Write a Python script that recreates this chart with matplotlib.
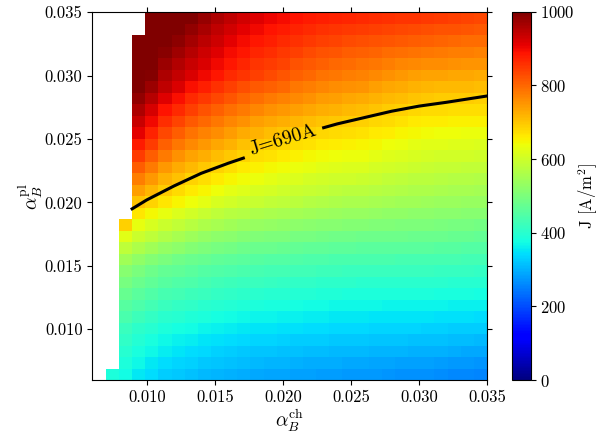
import numpy as np
import matplotlib
matplotlib.use("Agg")
import matplotlib.pyplot as plt

plt.rcParams.update({
    "font.family": "serif",
    "font.serif": ["cmr10"],
    "mathtext.fontset": "cm",
    "axes.unicode_minus": False,
    "axes.formatter.use_mathtext": True,
})

# current density J [A/m^2], one list per alpha_B^ch column, from the lowest alpha_B^pl upwards
# (cells above the end of a list have no solution)
J_cols = [
    [385],
    [372, 384, 396, 408, 421, 438, 456, 475, 494, 515, 545, 582, 622, 690],
    [355, 368, 381, 393, 406, 424, 442, 460, 478, 497, 525, 560, 595, 630, 665, 703, 739, 775, 811, 846, 882, 912, 936, 960, 984, 1008, 1030, 1050, 1070, 1090],
    [341, 355, 368, 381, 395, 412, 430, 448, 466, 484, 511, 545, 579, 613, 647, 684, 716, 748, 780, 812, 844, 873, 899, 924, 950, 975, 995, 1013, 1031, 1049, 1062, 1075],
    [328, 342, 356, 370, 384, 401, 419, 437, 454, 472, 497, 530, 563, 596, 629, 665, 693, 721, 749, 778, 806, 834, 862, 889, 916, 943, 960, 976, 992, 1008, 1024, 1040],
    [321, 335, 349, 363, 378, 395, 413, 430, 448, 465, 488, 520, 552, 584, 616, 651, 677, 704, 730, 757, 784, 811, 838, 864, 891, 918, 940, 956, 972, 988, 1004, 1020],
    [315, 329, 343, 357, 372, 389, 407, 424, 442, 459, 480, 510, 541, 572, 604, 637, 662, 687, 712, 737, 762, 788, 814, 840, 867, 893, 920, 936, 952, 968, 984, 1000],
    [308, 323, 337, 351, 366, 383, 401, 418, 435, 453, 473, 502, 531, 561, 592, 625, 649, 674, 698, 723, 747, 773, 798, 824, 850, 876, 902, 918, 933, 949, 964, 980],
    [302, 317, 331, 346, 361, 378, 395, 412, 429, 447, 467, 494, 522, 551, 580, 613, 637, 661, 685, 709, 733, 758, 783, 808, 833, 859, 885, 900, 915, 930, 945, 960],
    [298, 313, 327, 342, 357, 374, 391, 408, 425, 442, 462, 489, 516, 545, 573, 604, 627, 650, 673, 696, 719, 743, 767, 792, 817, 842, 867, 883, 898, 913, 928, 942],
    [294, 309, 324, 338, 354, 370, 387, 404, 421, 438, 458, 484, 511, 539, 567, 597, 619, 641, 663, 685, 707, 730, 754, 778, 803, 828, 852, 868, 883, 898, 913, 928],
    [291, 306, 320, 335, 351, 367, 384, 401, 418, 435, 455, 480, 507, 534, 562, 591, 612, 633, 654, 675, 697, 719, 742, 767, 791, 816, 840, 855, 870, 885, 900, 915],
    [288, 303, 318, 333, 349, 365, 381, 398, 415, 432, 452, 477, 503, 530, 558, 585, 606, 627, 647, 668, 688, 710, 733, 757, 781, 806, 829, 845, 860, 875, 890, 904],
    [286, 301, 316, 331, 347, 363, 379, 396, 413, 430, 450, 474, 500, 527, 554, 581, 601, 621, 641, 661, 681, 702, 725, 749, 773, 797, 820, 836, 851, 866, 881, 895],
    [284, 298, 314, 328, 344, 360, 376, 393, 410, 428, 447, 470, 496, 522, 548, 575, 595, 614, 634, 654, 674, 694, 716, 739, 762, 785, 808, 824, 840, 856, 872, 888],
    [282, 296, 312, 326, 342, 358, 374, 391, 408, 426, 445, 468, 493, 518, 544, 570, 590, 609, 629, 648, 668, 688, 709, 731, 754, 776, 798, 815, 832, 848, 865, 882],
    [280, 295, 310, 325, 340, 356, 372, 389, 406, 424, 443, 465, 490, 515, 540, 566, 586, 605, 624, 644, 663, 683, 703, 725, 746, 768, 789, 807, 824, 842, 859, 876],
    [278, 293, 308, 323, 338, 354, 370, 388, 404, 422, 441, 463, 488, 512, 537, 562, 582, 601, 620, 639, 659, 678, 698, 719, 740, 761, 782, 800, 818, 836, 854, 872],
    [277, 292, 307, 322, 337, 353, 369, 386, 403, 421, 439, 461, 486, 510, 534, 558, 578, 598, 617, 636, 655, 674, 694, 714, 734, 755, 775, 794, 812, 831, 850, 868],
    [276, 291, 306, 321, 336, 352, 368, 385, 402, 420, 438, 460, 484, 508, 532, 556, 576, 595, 614, 633, 652, 671, 690, 710, 730, 750, 770, 789, 808, 827, 846, 865],
    [274, 289, 304, 320, 335, 351, 368, 384, 402, 420, 438, 460, 483, 506, 529, 552, 572, 590, 608, 626, 645, 664, 682, 702, 722, 742, 762, 782, 802, 822, 842, 861],
    [271, 287, 303, 318, 334, 351, 367, 384, 401, 419, 438, 459, 482, 504, 527, 549, 568, 585, 603, 620, 639, 657, 676, 695, 714, 734, 754, 775, 796, 817, 837, 858],
    [269, 285, 301, 317, 333, 350, 367, 384, 401, 419, 437, 459, 481, 503, 525, 546, 564, 581, 598, 615, 633, 651, 670, 688, 708, 727, 748, 769, 791, 813, 834, 855],
    [268, 283, 300, 316, 333, 349, 366, 383, 400, 418, 437, 458, 480, 501, 523, 543, 561, 578, 594, 611, 628, 646, 664, 683, 702, 721, 742, 764, 787, 809, 831, 852],
    [266, 282, 299, 315, 332, 349, 366, 383, 400, 418, 437, 458, 479, 500, 521, 541, 559, 575, 591, 607, 624, 642, 660, 678, 697, 716, 737, 760, 783, 806, 828, 850],
    [263, 280, 297, 313, 330, 347, 364, 382, 399, 417, 436, 456, 477, 498, 519, 539, 556, 573, 589, 605, 622, 640, 658, 676, 695, 714, 735, 758, 780, 802, 824, 846],
    [261, 277, 294, 311, 328, 345, 363, 380, 398, 416, 434, 455, 475, 496, 516, 536, 554, 570, 587, 603, 620, 638, 656, 675, 694, 713, 733, 755, 777, 799, 821, 842],
    [258, 275, 292, 309, 327, 344, 361, 379, 397, 415, 433, 453, 474, 494, 514, 534, 551, 568, 585, 602, 619, 636, 655, 673, 692, 711, 732, 753, 775, 796, 817, 839],
    [256, 273, 290, 307, 325, 342, 360, 378, 396, 414, 432, 452, 472, 492, 512, 532, 549, 566, 583, 600, 617, 634, 653, 672, 691, 710, 730, 751, 772, 793, 814, 835],
]

# scan grid (cell edges)
alpha_ch = np.linspace(0.007, 0.035, 30)
alpha_pl = np.linspace(0.006, 0.035, 33)

# J = 690 A iso-current line, split where its label sits
iso_x_left = [0.00893, 0.010, 0.012, 0.014, 0.016, 0.0171]
iso_y_left = [0.0195, 0.0202, 0.0213, 0.0223, 0.0231, 0.0235]
iso_x_right = [0.0230, 0.024, 0.026, 0.028, 0.030, 0.032, 0.035]
iso_y_right = [0.0259, 0.0262, 0.0267, 0.0272, 0.0276, 0.0279, 0.0284]
iso_label = "J=690A"
iso_label_pos = (0.0200, 0.0249)

J = np.full((len(alpha_pl) - 1, len(alpha_ch) - 1), np.nan)
for j, col in enumerate(J_cols):
    J[:len(col), j] = col

fig = plt.figure(figsize=(5.99, 4.38), dpi=100)
ax = fig.add_axes([0.154, 0.1324, 0.659, 0.8395])
cax = fig.add_axes([0.854, 0.1324, 0.0317, 0.8409])

mesh = ax.pcolormesh(alpha_ch, alpha_pl, J, cmap="jet", vmin=0, vmax=1000,
                     shading="flat", edgecolors="none")

ax.plot(iso_x_left, iso_y_left, color="k", lw=2.2)
ax.plot(iso_x_right, iso_y_right, color="k", lw=2.2)
ax.text(iso_label_pos[0], iso_label_pos[1], iso_label, fontsize=14,
        rotation=17, ha="center", va="center", rotation_mode="anchor")

ax.set_xlim(0.006, 0.035)
ax.set_ylim(0.006, 0.035)
ax.set_xticks(np.arange(0.010, 0.0351, 0.005))
ax.set_yticks(np.arange(0.010, 0.0351, 0.005))
ax.xaxis.set_major_formatter(plt.FormatStrFormatter("%.3f"))
ax.yaxis.set_major_formatter(plt.FormatStrFormatter("%.3f"))
ax.tick_params(direction="out", top=True, right=True, labelsize=12)
ax.set_xlabel(r"$\alpha_B^{\rm ch}$", fontsize=14, labelpad=2)
ax.set_ylabel(r"$\alpha_B^{\rm pl}$", fontsize=14, labelpad=0)

cb = fig.colorbar(mesh, cax=cax)
cb.set_ticks(np.arange(0, 1001, 200))
cb.ax.tick_params(labelsize=12)
cb.set_label(r"J [A/m$^2$]", fontsize=12, labelpad=1)

fig.savefig("out.png", dpi=100)
